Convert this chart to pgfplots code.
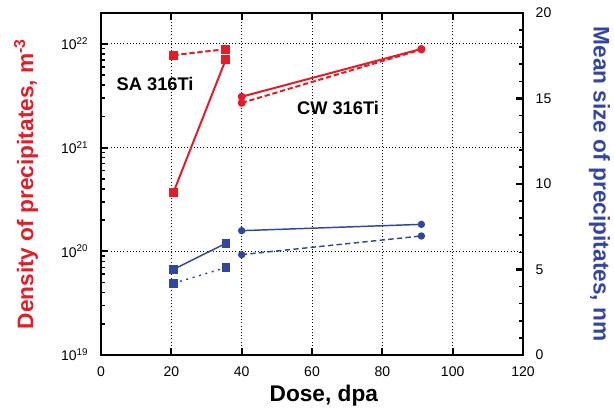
\documentclass[border=0pt]{standalone}
\usepackage{fontspec}
\setmainfont{Liberation Sans}
\usepackage{pgfplots}
\pgfplotsset{compat=1.18}
\definecolor{myred}{RGB}{225,30,40}
\definecolor{myblue}{RGB}{50,70,160}
\begin{document}
\begin{tikzpicture}[x=1pt,y=1pt]
\path[use as bounding box] (-75.75,-45.75) rectangle (384.75,266.25);
\pgfplotsset{
  common/.style={
    at={(0,0)}, anchor=south west, scale only axis,
    width=316.5pt, height=256.5pt,
    xmin=0, xmax=120,
    axis line style={line width=2.2pt, black},
    major tick style={line width=1.6pt, black},
    minor tick style={line width=1.2pt, black},
    major tick length=5pt, minor tick length=3pt,
    tick label style={font=\fontsize{10.5}{12}\selectfont},
    /pgf/number format/assume math mode=true,
  }
}
\begin{axis}[common,
  ymode=log, ymin=1e19, ymax=1.99e22,
  xtick={0,20,...,120},
  ytick={1e19,1e20,1e21,1e22},
  yticklabels={10\textsuperscript{19},10\textsuperscript{20},10\textsuperscript{21},10\textsuperscript{22}},
  ytick pos=left, xtick pos=both,
  grid=major, grid style={dotted, black, line width=0.7pt},
  yticklabel style={xshift=-6pt},
  xticklabel style={yshift=-5pt},
  xlabel={Dose, dpa},
  ylabel={Density of precipitates, m\textsuperscript{-3}},
  every axis x label/.style={at={(axis description cs:0.528,-0.12)},anchor=center,font=\fontsize{17}{20}\selectfont\bfseries},
  every axis y label/.style={at={(axis description cs:-0.1777,0.5)},rotate=90,anchor=center,font=\fontsize{17}{20}\selectfont\bfseries,text=myred},
]
% SA 316Ti density
\addplot[myred, line width=1.5pt, dash pattern=on 4pt off 2pt, mark=square*, mark size=2.6pt, mark options={solid}]
  coordinates {(20.6,7.8e21) (35.5,8.9e21)};
\addplot[myred, line width=1.5pt, mark=square*, mark size=2.6pt]
  coordinates {(20.6,3.7e20) (35.5,7.1e21)};
% CW 316Ti density
\addplot[myred, line width=1.5pt, mark=*, mark size=2.2pt]
  coordinates {(40,3.1e21) (91.1,8.95e21)};
\addplot[myred, line width=1.5pt, dash pattern=on 4pt off 2pt, mark=*, mark size=2.2pt, mark options={solid}]
  coordinates {(40,2.7e21) (91.1,8.85e21)};
\node[font=\fontsize{13.7}{16}\selectfont\bfseries, anchor=center] at (axis cs:15.4,4.11e21) {SA 316Ti};
\node[font=\fontsize{13.7}{16}\selectfont\bfseries, anchor=center] at (axis cs:67.4,2.42e21) {CW 316Ti};
\end{axis}
\begin{axis}[common,
  ymin=0, ymax=20,
  axis x line=none, axis y line*=right,
  ytick={0,5,...,20}, minor y tick num=4,
  yticklabel style={xshift=6pt},
  ylabel={Mean size of precipitates, nm},
  every axis y label/.style={at={(axis description cs:1.181,0.5)},rotate=-90,anchor=center,font=\fontsize{17}{20}\selectfont\bfseries,text=myblue},
]
% SA 316Ti size
\addplot[myblue, line width=1.1pt, mark=square*, mark size=2.6pt]
  coordinates {(20.6,5.01) (35.5,6.53)};
\addplot[myblue, line width=1.1pt, dash pattern=on 1.5pt off 3.5pt, mark=square*, mark size=2.6pt, mark options={solid}]
  coordinates {(20.6,4.19) (35.5,5.11)};
% CW 316Ti size
\addplot[myblue, line width=1.1pt, mark=*, mark size=2.2pt]
  coordinates {(40,7.27) (91.1,7.64)};
\addplot[myblue, line width=1.1pt, dash pattern=on 4pt off 2.5pt, mark=*, mark size=2.2pt, mark options={solid}]
  coordinates {(40,5.87) (91.1,6.96)};
\end{axis}
\end{tikzpicture}
\end{document}
